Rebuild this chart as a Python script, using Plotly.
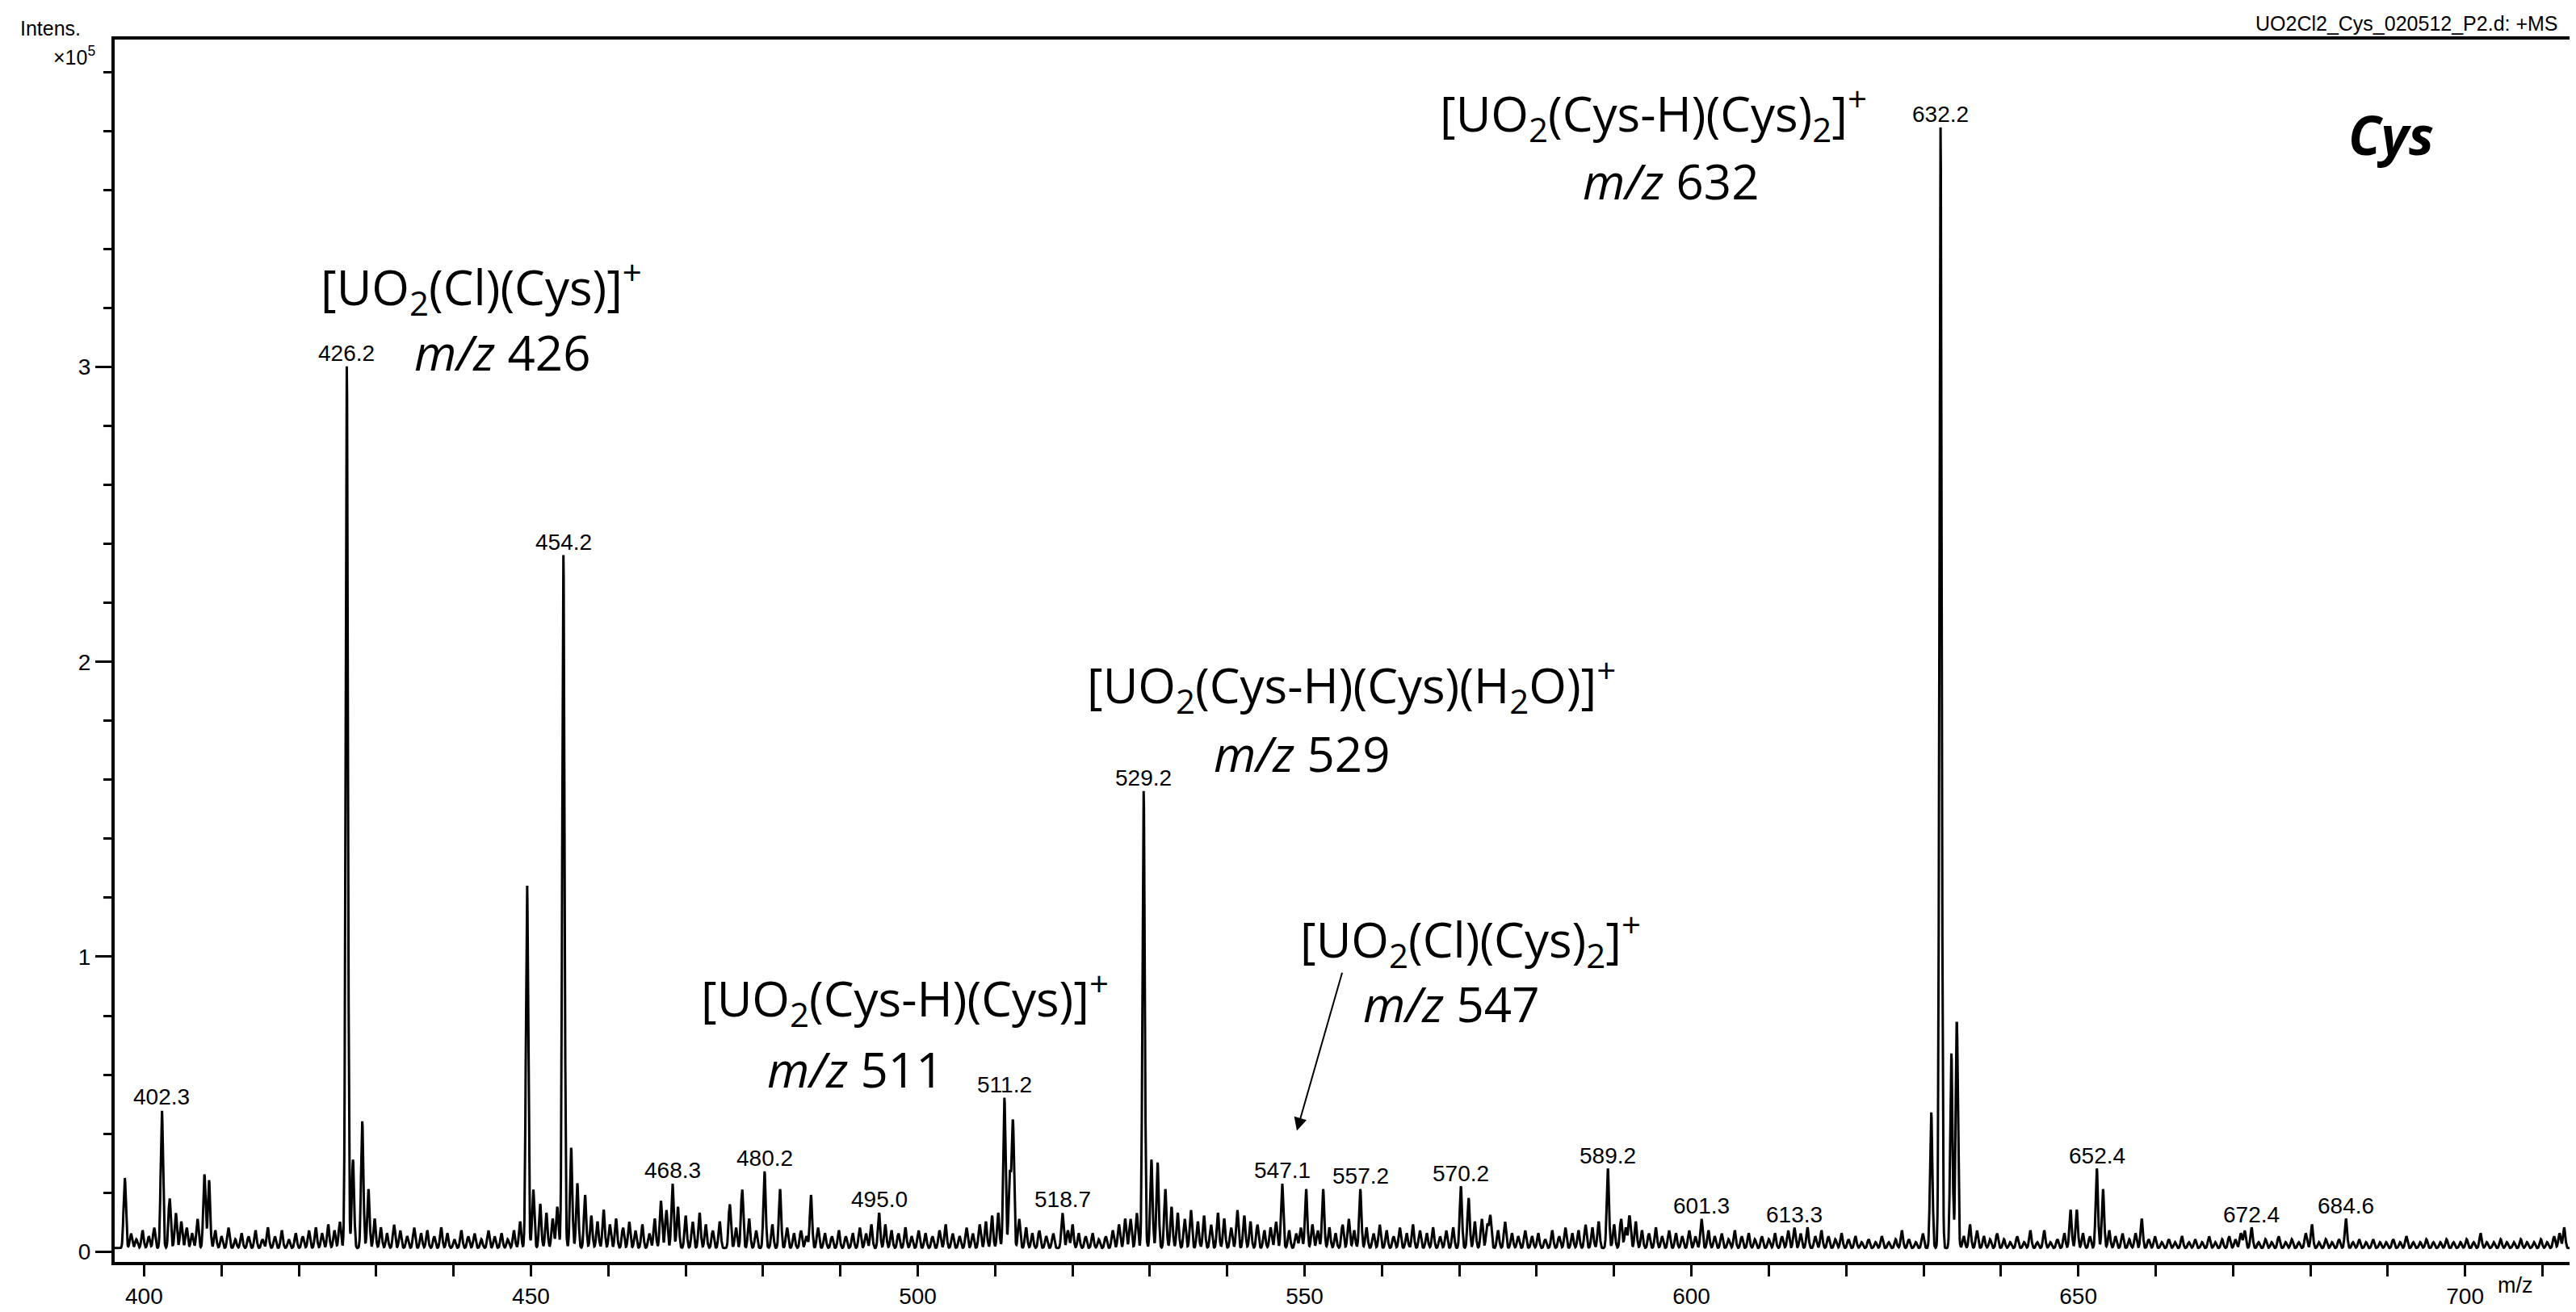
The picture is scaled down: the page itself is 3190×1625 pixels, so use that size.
import numpy as np
import plotly.graph_objects as go

# main labelled / visible peaks (m/z, intensity x1e5)
peak_mz = [397.5, 402.3, 403.3, 404.1, 407.8, 408.4, 426.2, 427.0, 428.2, 429.0,
           449.5, 450.3, 451.2, 454.2, 455.2, 456.0, 457.0, 466.8, 468.3, 469.0,
           475.7, 477.3, 480.2, 482.2, 486.2, 495.0, 494.0, 510.4, 511.2, 511.9,
           512.3, 518.7, 520.0, 527.5, 529.2, 530.2, 531.0, 532.0, 547.1, 550.2,
           552.4, 557.2, 570.2, 571.2, 574.0, 589.2, 592.0, 601.3, 613.3, 615.0,
           631.0, 632.2, 633.6, 634.3, 649.0, 649.8, 652.4, 653.2, 658.2, 680.2,
           684.6, 671.5, 672.4, 712.8]
peak_int = [0.24, 0.47, 0.17, 0.12, 0.25, 0.23, 2.99, 0.30, 0.43, 0.20,
            1.24, 0.20, 0.15, 2.35, 0.34, 0.22, 0.18, 0.16, 0.22, 0.14,
            0.15, 0.20, 0.26, 0.20, 0.18, 0.12, 0.08, 0.12, 0.51, 0.25,
            0.43, 0.12, 0.08, 0.10, 1.55, 0.30, 0.29, 0.20, 0.22, 0.20,
            0.20, 0.20, 0.21, 0.17, 0.11, 0.27, 0.11, 0.10, 0.07, 0.07,
            0.46, 3.80, 0.66, 0.77, 0.13, 0.13, 0.27, 0.20, 0.10, 0.08,
            0.10, 0.06, 0.07, 0.07]

# baseline chemical noise peaks
noise_mz = [398.3, 399.0, 399.8, 400.6, 401.3, 404.8, 405.5, 406.2, 406.9, 409.2, 410.0, 410.9,
            411.8, 412.6, 413.5, 414.4, 415.3, 416.0, 416.9, 417.8, 418.7, 419.6, 420.5, 421.3,
            422.2, 423.0, 423.8, 424.6, 425.3, 429.8, 430.6, 431.4, 432.3, 433.1, 434.0, 434.9,
            435.8, 436.6, 437.5, 438.4, 439.2, 440.1, 441.0, 441.9, 442.7, 443.6, 444.5, 445.3,
            446.2, 447.0, 447.8, 448.6, 452.0, 452.8, 453.4, 457.8, 458.6, 459.4, 460.2, 461.0,
            461.9, 462.7, 463.5, 464.4, 465.3, 466.0, 467.5, 470.0, 470.9, 471.8, 472.6, 473.5,
            474.4, 476.5, 478.2, 479.1, 481.2, 483.1, 484.0, 484.9, 485.6, 487.1, 488.0, 488.9,
            489.8, 490.7, 491.6, 492.5, 493.3, 495.8, 496.6, 497.5, 498.4, 499.2, 500.1, 501.0,
            501.9, 502.8, 503.6, 504.5, 505.4, 506.3, 507.1, 508.0, 508.8, 509.6, 513.1, 514.0,
            514.8, 515.7, 516.6, 517.5, 519.4, 520.8, 521.7, 522.6, 523.4, 524.3, 525.2, 526.0,
            526.8, 528.3, 532.8, 533.6, 534.5, 535.3, 536.2, 537.0, 537.9, 538.8, 539.6, 540.5,
            541.3, 542.2, 543.0, 543.9, 544.8, 545.6, 546.3, 548.0, 548.9, 549.5, 551.0, 551.7,
            553.2, 554.0, 554.9, 555.7, 556.4, 558.0, 558.9, 559.7, 560.6, 561.5, 562.3, 563.2,
            564.0, 564.9, 565.8, 566.6, 567.5, 568.3, 569.2, 572.0, 572.9, 573.6, 575.0, 575.9,
            576.8, 577.6, 578.5, 579.4, 580.2, 581.1, 582.0, 582.9, 583.7, 584.6, 585.4, 586.3,
            587.2, 588.0, 590.0, 590.9, 591.5, 592.8, 593.6, 594.5, 595.4, 596.2, 597.1, 598.0,
            598.8, 599.7, 600.5, 602.2, 603.0, 603.9, 604.8, 605.6, 606.5, 607.4, 608.2, 609.1,
            610.0, 610.8, 611.7, 612.5, 614.1, 616.0, 616.8, 617.7, 618.6, 619.4, 620.3, 621.2,
            622.0, 622.9, 623.8, 624.6, 625.5, 626.4, 627.2, 628.1, 629.0, 629.9, 635.2, 636.0,
            636.9, 637.8, 638.6, 639.5, 640.4, 641.2, 642.1, 643.0, 643.8, 644.7, 645.6, 646.4,
            647.3, 648.2, 650.6, 651.5, 654.0, 654.8, 655.7, 656.6, 657.4, 659.1, 659.9, 660.8,
            661.7, 662.5, 663.4, 664.3, 665.1, 666.0, 666.9, 667.7, 668.6, 669.5, 670.3, 671.0,
            673.3, 674.2, 675.0, 675.9, 676.8, 677.6, 678.5, 679.4, 681.1, 682.0, 682.8, 683.7,
            685.5, 686.3, 687.2, 688.1, 689.0, 689.8, 690.7, 691.6, 692.4, 693.3, 694.2, 695.0,
            695.9, 696.8, 697.6, 698.5, 699.4, 700.2, 701.1, 702.0, 702.8, 703.7, 704.6, 705.4,
            706.3, 707.2, 708.0, 708.9, 709.8, 710.6, 711.5, 712.2]
noise_h = [0.05, 0.03, 0.06, 0.04, 0.07, 0.09, 0.07, 0.05, 0.10, 0.06, 0.04, 0.07,
           0.03, 0.05, 0.04, 0.06, 0.03, 0.07, 0.04, 0.06, 0.03, 0.05, 0.04, 0.06,
           0.07, 0.05, 0.08, 0.06, 0.09, 0.10, 0.07, 0.05, 0.08, 0.06, 0.04, 0.07,
           0.05, 0.06, 0.04, 0.07, 0.05, 0.03, 0.06, 0.04, 0.05, 0.03, 0.06, 0.04,
           0.05, 0.03, 0.06, 0.09, 0.12, 0.10, 0.14, 0.11, 0.09, 0.13, 0.08, 0.10,
           0.07, 0.09, 0.06, 0.08, 0.05, 0.10, 0.13, 0.11, 0.09, 0.12, 0.08, 0.06,
           0.09, 0.07, 0.10, 0.06, 0.08, 0.07, 0.05, 0.06, 0.04, 0.07, 0.05, 0.04,
           0.06, 0.04, 0.05, 0.07, 0.05, 0.08, 0.06, 0.05, 0.07, 0.04, 0.06, 0.05,
           0.04, 0.06, 0.08, 0.05, 0.04, 0.07, 0.05, 0.08, 0.09, 0.11, 0.10, 0.07,
           0.05, 0.06, 0.04, 0.05, 0.06, 0.05, 0.04, 0.05, 0.03, 0.04, 0.06, 0.08,
           0.10, 0.12, 0.14, 0.12, 0.10, 0.13, 0.09, 0.11, 0.08, 0.12, 0.10, 0.07,
           0.13, 0.11, 0.09, 0.08, 0.06, 0.07, 0.09, 0.06, 0.05, 0.07, 0.08, 0.06,
           0.07, 0.05, 0.08, 0.10, 0.06, 0.07, 0.05, 0.08, 0.06, 0.04, 0.07, 0.05,
           0.08, 0.06, 0.05, 0.07, 0.04, 0.06, 0.07, 0.09, 0.10, 0.08, 0.06, 0.09,
           0.05, 0.04, 0.06, 0.04, 0.05, 0.03, 0.06, 0.04, 0.07, 0.05, 0.06, 0.08,
           0.07, 0.09, 0.08, 0.10, 0.07, 0.09, 0.06, 0.05, 0.07, 0.04, 0.06, 0.05,
           0.04, 0.06, 0.04, 0.06, 0.04, 0.05, 0.03, 0.06, 0.04, 0.05, 0.03, 0.04,
           0.03, 0.05, 0.04, 0.06, 0.05, 0.04, 0.06, 0.04, 0.03, 0.05, 0.03, 0.04,
           0.02, 0.03, 0.02, 0.04, 0.02, 0.03, 0.06, 0.03, 0.02, 0.05, 0.04, 0.08,
           0.06, 0.04, 0.03, 0.05, 0.03, 0.02, 0.04, 0.02, 0.06, 0.02, 0.06, 0.02,
           0.03, 0.05, 0.05, 0.04, 0.06, 0.04, 0.05, 0.03, 0.05, 0.03, 0.04, 0.02,
           0.03, 0.02, 0.04, 0.02, 0.03, 0.02, 0.04, 0.02, 0.03, 0.04, 0.03, 0.05,
           0.02, 0.03, 0.02, 0.04, 0.02, 0.03, 0.02, 0.05, 0.02, 0.03, 0.02, 0.03,
           0.02, 0.03, 0.02, 0.03, 0.02, 0.02, 0.03, 0.02, 0.04, 0.02, 0.02, 0.03,
           0.02, 0.02, 0.03, 0.02, 0.02, 0.03, 0.02, 0.05, 0.02, 0.02, 0.03, 0.02,
           0.02, 0.03, 0.02, 0.02, 0.03, 0.02, 0.04, 0.05]
baseline = 0.012

label_mz = [402.3, 426.2, 454.2, 468.3, 480.2, 495.0, 511.2, 518.7, 529.2, 547.1,
            557.2, 570.2, 589.2, 601.3, 613.3, 632.2, 652.4, 672.4, 684.6]
label_int = [0.47, 2.99, 2.35, 0.22, 0.26, 0.12, 0.51, 0.12, 1.55, 0.22,
             0.20, 0.21, 0.27, 0.10, 0.07, 3.80, 0.27, 0.07, 0.10]

# profile spectrum built from the peak lists
grid = np.arange(396.0, 714.0, 0.04)
all_mz = np.array(peak_mz + noise_mz)
all_h = np.array(peak_int + noise_h)
sigma = 0.15
prof = baseline + (all_h[None, :] * np.exp(-0.5 * ((grid[:, None] - all_mz[None, :]) / sigma) ** 2)).sum(axis=1)

fig = go.Figure()
fig.add_trace(go.Scatter(x=grid, y=prof, mode="lines", line=dict(color="black", width=3),
                         hoverinfo="skip", showlegend=False))

small = dict(family="Liberation Sans", size=28, color="black")
for m, v in zip(label_mz, label_int):
    fig.add_annotation(x=m, y=v, text=f"{m:.1f}", showarrow=False, yanchor="bottom",
                       yshift=3, font=small)

big = dict(family="Open Sans", size=60, color="black")
texts = [
    (443.6, 3.27, "[UO<sub>2</sub>(Cl)(Cys)]<sup>+</sup>"),
    (446.3, 3.05, "<i>m/z</i> 426"),
    (595.1, 3.86, "[UO<sub>2</sub>(Cys-H)(Cys)<sub>2</sub>]<sup>+</sup>"),
    (597.3, 3.63, "<i>m/z</i> 632"),
    (556.0, 1.92, "[UO<sub>2</sub>(Cys-H)(Cys)(H<sub>2</sub>O)]<sup>+</sup>"),
    (549.6, 1.69, "<i>m/z</i> 529"),
    (571.4, 1.06, "[UO<sub>2</sub>(Cl)(Cys)<sub>2</sub>]<sup>+</sup>"),
    (568.9, 0.84, "<i>m/z</i> 547"),
    (498.3, 0.86, "[UO<sub>2</sub>(Cys-H)(Cys)]<sup>+</sup>"),
    (491.9, 0.62, "<i>m/z</i> 511"),
]
for x, y, t in texts:
    fig.add_annotation(x=x, y=y, text=t, showarrow=False, font=big)
fig.add_annotation(x=690.4, y=3.79, text="<b><i>Cys</i></b>", showarrow=False,
                   font=dict(family="Open Sans", size=66, color="black"))
fig.add_annotation(x=549.0, y=0.41, ax=554.9, ay=0.95, xref="x", yref="y", axref="x", ayref="y",
                   text="", showarrow=True, arrowhead=2, arrowsize=1.6, arrowwidth=2, arrowcolor="black")

lab = dict(family="Liberation Sans", size=25, color="black")
fig.add_annotation(xref="paper", yref="paper", x=1, y=1, xanchor="right", yanchor="bottom",
                   xshift=-12, yshift=4, text="UO2Cl2_Cys_020512_P2.d: +MS", showarrow=False, font=lab)
fig.add_annotation(xref="paper", yref="paper", x=0, y=1, xanchor="right", yanchor="top",
                   xshift=-40, yshift=30, text="Intens.", showarrow=False, font=lab)
fig.add_annotation(xref="paper", yref="paper", x=0, y=1, xanchor="right", yanchor="top",
                   xshift=-22, yshift=-2, text="×10<sup>5</sup>", showarrow=False, font=lab)
fig.add_annotation(xref="x", yref="paper", x=706.5, y=0, yanchor="top", yshift=-12, text="m/z",
                   showarrow=False, font=dict(family="Liberation Sans", size=27, color="black"))

tickfont = dict(family="Liberation Sans", size=28, color="black")
fig.update_layout(
    width=3190, height=1625, paper_bgcolor="white", plot_bgcolor="white",
    margin=dict(l=134, r=12, t=41, b=58),
    xaxis=dict(range=[396.2, 713.5], tickvals=[400, 450, 500, 550, 600, 650, 700],
               ticks="outside", ticklen=14, tickwidth=2.5, tickcolor="black",
               minor=dict(dtick=10, tick0=400, ticks="outside", ticklen=14, tickwidth=2.5, tickcolor="black"),
               showline=True, linewidth=4, linecolor="black", mirror=True,
               showgrid=False, zeroline=False, tickfont=tickfont),
    yaxis=dict(range=[-0.035, 4.11], tickvals=[0, 1, 2, 3], ticks="outside", ticklen=20,
               tickwidth=3, tickcolor="black",
               minor=dict(dtick=0.2, tick0=0, ticks="outside", ticklen=10, tickwidth=2.5, tickcolor="black"),
               showline=True, linewidth=4, linecolor="black", mirror=True,
               showgrid=False, zeroline=False, tickfont=tickfont),
)
fig.write_html("out.html")
